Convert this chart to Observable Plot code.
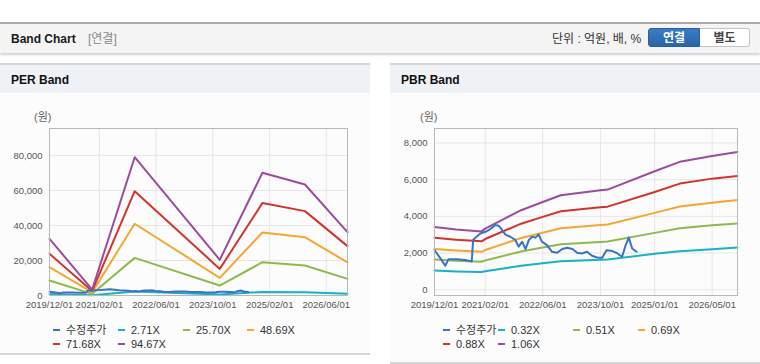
<!DOCTYPE html>
<html><head><meta charset="utf-8">
<script src="https://cdn.jsdelivr.net/npm/d3@7"></script>
<script src="https://cdn.jsdelivr.net/npm/@observablehq/plot@0.6"></script>
<style>
body{margin:0;width:760px;height:364px;background:#fff;position:relative;overflow:hidden;font-family:"Liberation Sans","Noto Sans CJK KR",sans-serif;}
.abs{position:absolute;}
.topbar{left:0;top:22px;width:760px;height:29px;background:#f4f4f4;border-top:2px solid #ababab;box-shadow:0 2px 2px rgba(0,0,0,0.18);}
.title{left:11px;top:31px;font-size:12px;font-weight:bold;color:#1a1a1a;line-height:16px;}
.sub{left:88px;top:31px;font-size:12px;color:#888;line-height:16px;}
.unit{left:552px;top:31px;font-size:12px;color:#333;line-height:16px;}
.btn{top:28px;height:19px;line-height:19px;font-size:12px;font-weight:bold;text-align:center;box-sizing:border-box;}
.b1{left:648px;width:52px;background:linear-gradient(#3a7cc4,#2a64a8);color:#fff;border:1px solid #2a5e9e;border-radius:3px 0 0 3px;}
.b2{left:700px;width:50px;background:#fff;color:#444;border:1px solid #c4c4c4;border-left:none;border-radius:0 3px 3px 0;}
.panel{top:63px;width:370px;background:#fcfcfc;border-top:2px solid #d6d6d6;border-bottom:2px solid #d6d6d6;}
.phead{position:absolute;left:0;top:0;width:100%;height:28px;background:#eef2f7;}
.ptitle{position:absolute;left:11px;top:8px;font-size:12px;font-weight:bold;color:#111;line-height:14px;}
.unitlbl{font-size:11px;color:#666;line-height:12px;}
.legend{display:grid;font-size:11px;color:#333;line-height:13.5px;}
.legend span.sw{display:inline-block;width:7px;height:2px;margin-right:6px;vertical-align:middle;position:relative;top:-1px;}
.chart{position:absolute;top:100px;}
</style></head>
<body>
<div class="abs topbar"></div>
<div class="abs title">Band Chart</div>
<div class="abs sub">[연결]</div>
<div class="abs unit">단위 : 억원, 배, %</div>
<div class="abs btn b1">연결</div>
<div class="abs btn b2">별도</div>

<div class="abs panel" style="left:0;height:288px;"><div class="phead"><div class="ptitle">PER Band</div></div></div>
<div class="abs panel" style="left:390px;height:297px;"><div class="phead"><div class="ptitle">PBR Band</div></div></div>

<div class="abs unitlbl" style="left:34px;top:111px;">(원)</div>
<div class="abs unitlbl" style="left:420px;top:111px;">(원)</div>

<div id="per" class="chart" style="left:0;"></div>
<div id="pbr" class="chart" style="left:390px;"></div>
<div id="perLegend" class="abs legend" style="left:53px;top:324px;grid-template-columns:65px 65px 64px auto;"></div>
<div id="pbrLegend" class="abs legend" style="left:443px;top:324px;grid-template-columns:55px 75px 65px auto;"></div>

<script>
// ---- data ----
const priceName = "수정주가";
const priceDates = ["2019-12-01","2020-01-20","2020-03-01","2020-03-28","2020-06-07","2020-08-16","2020-09-28","2020-10-10","2020-10-22","2020-11-10","2020-12-22","2021-02-04","2021-03-16","2021-04-28","2021-05-25","2021-06-13","2021-07-19","2021-09-01","2021-10-13","2021-11-10","2021-12-10","2022-01-07","2022-02-04","2022-03-04","2022-04-01","2022-04-28","2022-05-25","2022-07-07","2022-08-19","2022-10-01","2022-11-13","2022-12-25","2023-02-07","2023-03-19","2023-04-28","2023-06-10","2023-07-22","2023-09-04","2023-10-16","2023-11-22","2024-01-10","2024-02-22","2024-04-01","2024-05-01","2024-05-28","2024-06-25","2024-08-01"];
const priceValues = [2160,1710,1310,1670,1670,1620,1560,1540,2710,2840,3070,3160,3310,3530,3490,3345,3020,2890,2710,2350,2620,2220,2710,2890,2840,3020,2620,2430,2070,2020,2220,2290,2220,2020,1980,2070,1855,1760,1745,2160,2110,1980,1800,2430,2840,2250,2070];

const perNames = ["2.71X","25.70X","48.69X","71.68X","94.67X"];
const perDates = ["2019-12-01","2020-12-01","2021-12-01","2023-12-01","2024-12-01","2025-12-01","2026-12-01"];
const per271  = [910, 100, 2270, 600, 2000, 1800, 1000];
const per2570 = [8600, 950, 21500, 5700, 19000, 17100, 9500];
const per4869 = [16200, 1800, 41000, 10100, 36000, 33300, 18900];
const per7168 = [23800, 2600, 59600, 15200, 52800, 48200, 28200];
const per9467 = [32400, 3400, 79000, 20400, 70100, 63400, 36200];

const pbrNames = ["0.32X","0.51X","0.69X","0.88X","1.06X"];
const pbrDates = ["2019-12-01","2020-06-01","2021-01-01","2021-02-01","2021-12-01","2022-06-01","2022-11-01","2023-10-01","2023-12-01","2025-01-01","2025-08-01","2026-05-01","2026-12-01"];
const pbr032 = [1050, 1000, 970, 1005, 1310, 1440, 1555, 1635, 1650, 1960, 2100, 2210, 2300];
const pbr051 = [1650, 1580, 1530, 1600, 2085, 2300, 2480, 2605, 2625, 3100, 3350, 3510, 3610];
const pbr069 = [2220, 2140, 2070, 2165, 2820, 3110, 3350, 3525, 3555, 4190, 4535, 4745, 4890];
const pbr088 = [2840, 2730, 2640, 2765, 3600, 3970, 4275, 4495, 4530, 5330, 5785, 6055, 6200];
const pbr106 = [3420, 3290, 3180, 3330, 4335, 4780, 5150, 5420, 5460, 6460, 6970, 7290, 7510];

const perXTicks = ["2019-12-01","2021-02-01","2022-06-01","2023-10-01","2025-02-01","2026-06-01"];
const pbrXTicks = ["2019-12-01","2021-02-01","2022-06-01","2023-10-01","2025-01-01","2026-05-01"];
const perYTicks = [0, 20000, 40000, 60000, 80000];
const pbrYTicks = [0, 2000, 4000, 6000, 8000];
const seriesColors = ["#3a73c6","#17b1c8","#8dba4d","#f5a732","#d2332c","#9b4c9f"];

// ---- helpers ----
const parse = s => new Date(s + "T00:00:00Z");
function rows(name, dates, values){ return values.map((v,i)=>({name, date: parse(dates[i]), value: v})); }

function makeChart(el, bandNames, bandDates, bandValues, xTicks, yTicks, yDomain, mL){
  const names = [priceName, ...bandNames];
  const data = bandValues.flatMap((vals,i)=>rows(bandNames[i], bandDates, vals));
  const price = rows(priceName, priceDates, priceValues);
  const xt = xTicks.map(parse);
  const chart = Plot.plot({
    width: 370, height: 215,
    marginLeft: mL, marginRight: 23, marginTop: 28, marginBottom: 20,
    style: {fontFamily: "Liberation Sans, sans-serif", fontSize: "9.5px", color: "#555", background: "transparent"},
    x: {type: "utc", domain: [parse("2019-12-01"), parse("2026-12-01")]},
    y: {domain: yDomain},
    color: {domain: names, range: seriesColors},
    marks: [
      Plot.gridX(xt, {stroke: "#e6e6e6", strokeOpacity: 1}),
      Plot.gridY(yTicks, {stroke: "#e6e6e6", strokeOpacity: 1}),
      Plot.axisX(xt, {tickSize: 0, tickPadding: 6, tickFormat: d3.utcFormat("%Y/%m/%d"), label: null, fill: "#555"}),
      Plot.axisY(yTicks, {tickSize: 0, tickPadding: 7, tickFormat: d3.format(","), label: null, fill: "#555"}),
      Plot.line(data, {x: "date", y: "value", z: "name", stroke: "name", strokeWidth: 2}),
      Plot.line(price, {x: "date", y: "value", stroke: "name", strokeWidth: 2}),
      Plot.frame({stroke: "#b8b8b8", strokeWidth: 1})
    ]
  });
  document.getElementById(el).appendChild(chart);
}

function makeLegend(el, bandNames){
  const names = [priceName, ...bandNames];
  const box = document.getElementById(el);
  names.forEach((n,i)=>{
    const d = document.createElement("div");
    d.innerHTML = `<span class="sw" style="background:${seriesColors[i]}"></span>${n}`;
    box.appendChild(d);
  });
}

makeChart("per", perNames, perDates, [per271, per2570, per4869, per7168, per9467], perXTicks, perYTicks, [0, 95400], 49);
makeChart("pbr", pbrNames, pbrDates, [pbr032, pbr051, pbr069, pbr088, pbr106], pbrXTicks, pbrYTicks, [-311, 8786], 44);
makeLegend("perLegend", perNames);
makeLegend("pbrLegend", pbrNames);
</script>
</body></html>
